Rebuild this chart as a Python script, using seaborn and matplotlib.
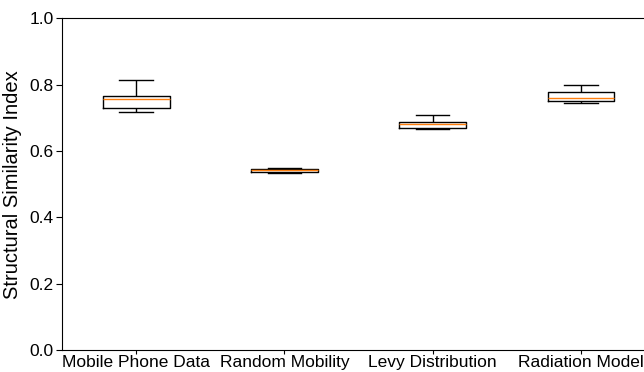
import numpy as np
import pandas as pd
import matplotlib
matplotlib.use("Agg")
import matplotlib.pyplot as plt
import seaborn as sns

# ========== data (min, q1, median, q3, max) ==========
models = ["Mobile Phone Data", "Random Mobility", "Levy Distribution", "Radiation Model"]
mobile_phone = [0.717, 0.729, 0.756, 0.766, 0.813]
random_mobility = [0.533, 0.538, 0.543, 0.546, 0.549]
levy = [0.665, 0.668, 0.682, 0.687, 0.709]
radiation = [0.745, 0.752, 0.760, 0.777, 0.799]

y_ticks = [0.0, 0.2, 0.4, 0.6, 0.8, 1.0]

df = pd.DataFrame({
    "model": np.repeat(models, 5),
    "ssi": mobile_phone + random_mobility + levy + radiation,
})

plt.rcParams["font.family"] = ["Liberation Sans", "DejaVu Sans"]

fig = plt.figure(figsize=(6.44, 3.72), dpi=100)
ax = fig.add_axes([0.0963, 0.059, 0.921, 0.892])

sns.boxplot(
    data=df, x="model", y="ssi", order=models,
    fill=False, color="black", linewidth=1.0, width=0.45,
    whis=1.5, showfliers=False,
    medianprops={"color": "#ff7f0e", "linewidth": 1.0},
    ax=ax,
)

ax.set_ylim(0, 1.0)
ax.set_yticks(y_ticks)
ax.set_yticklabels([f"{t:.1f}" for t in y_ticks])
ax.set_xlabel("")
ax.set_ylabel("Structural Similarity Index", fontsize=14.5, labelpad=5)
ax.tick_params(axis="y", labelsize=12.5, length=4, pad=2)
ax.tick_params(axis="x", labelsize=12.5, length=3, pad=0.5)

plt.savefig("out.png", dpi=100)
plt.close()
